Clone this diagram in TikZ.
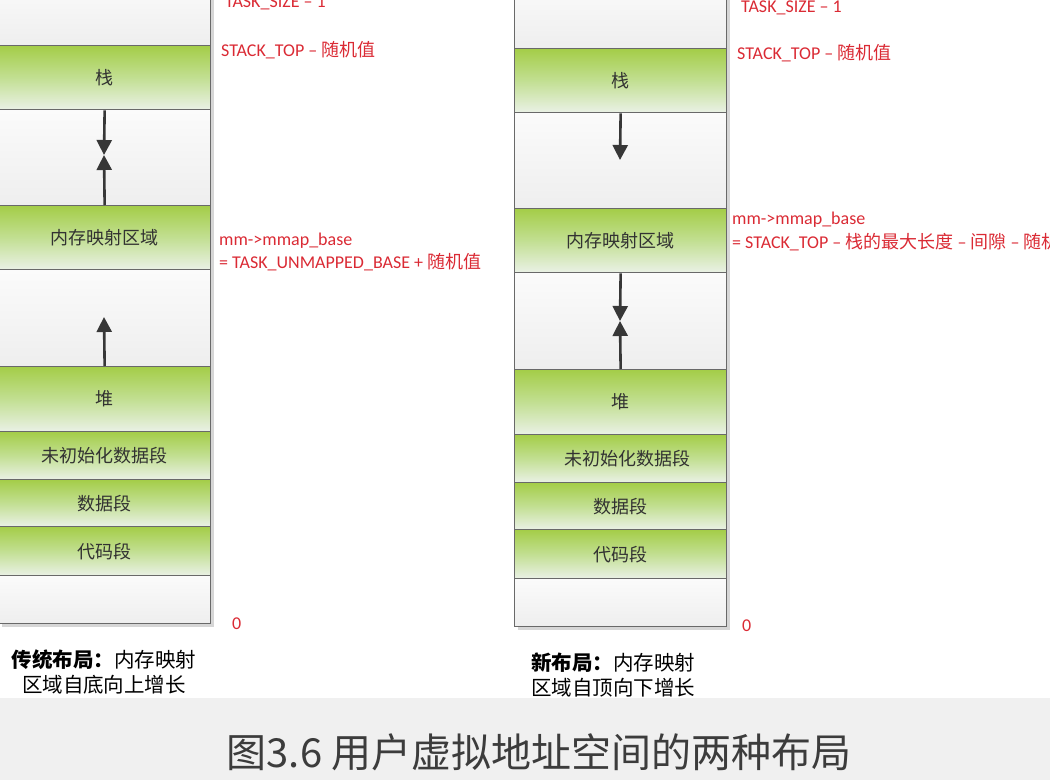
\documentclass[tikz,border=0pt]{standalone}
\usepackage{fontspec}
\setmainfont{Carlito}
\newfontfamily\cjk{Noto Sans CJK SC}
\usetikzlibrary{arrows.meta}

\definecolor{rowline}{RGB}{105,105,105}
\definecolor{rowshadow}{RGB}{214,214,214}
\definecolor{greentop}{RGB}{164,205,72}
\definecolor{greenmid}{RGB}{194,223,146}
\definecolor{greenbot}{RGB}{234,241,230}
\definecolor{greytop}{RGB}{251,251,251}
\definecolor{greybot}{RGB}{238,238,238}
\definecolor{addrred}{RGB}{218,42,52}
\definecolor{boxtext}{RGB}{50,50,50}
\definecolor{arrowgrey}{RGB}{55,55,55}
\definecolor{bandgrey}{RGB}{240,240,240}
\definecolor{titletext}{RGB}{60,60,60}

\begin{document}
\begin{tikzpicture}[x=1pt,y=-1pt,
        row/.style={draw=rowline, line width=1.3pt, anchor=north west, minimum width=212pt, inner sep=0pt, text=boxtext, font=\cjk\fontsize{18}{18}\selectfont},
        greenrow/.style={row, top color=greentop, bottom color=greenbot, middle color=greenmid},
        greyrow/.style={row, top color=greytop, bottom color=greybot},
        growarrow/.style={draw=arrowgrey, line width=2.6pt, -{Triangle[length=15pt,width=15pt]}},
        addr/.style={anchor=base west, inner sep=0pt, text=addrred, font=\fontsize{18}{18}\selectfont},
        note/.style={inner sep=0pt, text=black, font=\cjk\fontsize{20.5}{25.5}\selectfont}]
        \useasboundingbox (0,0) rectangle (1050,780);
        % traditional layout
        \fill[rowshadow] (2,-20) rectangle (214,627);
        \node[greyrow, minimum height=65pt] (Ltop) at (-2,-20) {};
        \node[greenrow, minimum height=64pt] (Lstack) at (-2,45) {栈};
        \node[greyrow, minimum height=96pt] (Lgap) at (-2,109) {};
        \node[greenrow, minimum height=64pt] (Lmmap) at (-2,205) {内存映射区域};
        \node[greyrow, minimum height=97pt] (Lfree) at (-2,269) {};
        \node[greenrow, minimum height=65pt] (Lheap) at (-2,366) {堆};
        \node[greenrow, minimum height=48pt] (Lbss) at (-2,431) {未初始化数据段};
        \node[greenrow, minimum height=47pt] (Ldata) at (-2,479) {数据段};
        \node[greenrow, minimum height=49pt] (Ltext) at (-2,526) {代码段};
        \node[greyrow, minimum height=48pt] (Lbottom) at (-2,575) {};
        \coordinate (Lmeet) at (104,155);
        \coordinate (Lheaptip) at (104,317);
        \draw[growarrow] (Lstack.south) -- (Lmeet);
        \draw[growarrow] (Lmmap.north) -- (Lmeet);
        \draw[growarrow] (Lheap.north) -- (Lheaptip);
        \node[addr] (Lsize) at (225,7) {TASK\_SIZE – 1};
        \node[addr] (Lstacktop) at (221,56) {STACK\_TOP – {\cjk 随机值}};
        \node[addr] (Lbase) at (219,245) {mm->mmap\_base};
        \node[addr] (Lbaseval) at (219,268) {= TASK\_UNMAPPED\_BASE + {\cjk 随机值}};
        \node[addr] (Lzero) at (232,629) {0};
        \node[note, align=center] (Lnote) at (104,672) {{\bfseries 传统布局：}内存映射\\区域自底向上增长};
        % new layout
        \fill[rowshadow] (518,-20) rectangle (730,630);
        \node[greyrow, minimum height=68pt] (Rtop) at (514,-20) {};
        \node[greenrow, minimum height=64pt] (Rstack) at (514,48) {栈};
        \node[greyrow, minimum height=96pt] (Rfree) at (514,112) {};
        \node[greenrow, minimum height=64pt] (Rmmap) at (514,208) {内存映射区域};
        \node[greyrow, minimum height=97pt] (Rgap) at (514,272) {};
        \node[greenrow, minimum height=65pt] (Rheap) at (514,369) {堆};
        \node[greenrow, minimum height=48pt] (Rbss) at (514,434) {\hspace*{14pt}未初始化数据段};
        \node[greenrow, minimum height=47pt] (Rdata) at (514,482) {数据段};
        \node[greenrow, minimum height=49pt] (Rtext) at (514,529) {代码段};
        \node[greyrow, minimum height=48pt] (Rbottom) at (514,578) {};
        \coordinate (Rstacktip) at (620,160);
        \coordinate (Rmeet) at (620,321);
        \draw[growarrow] (Rstack.south) -- (Rstacktip);
        \draw[growarrow] (Rmmap.south) -- (Rmeet);
        \draw[growarrow] (Rheap.north) -- (Rmeet);
        \node[addr] (Rsize) at (741,12) {TASK\_SIZE – 1};
        \node[addr] (Rstacktop) at (737,59) {STACK\_TOP – {\cjk 随机值}};
        \node[addr] (Rbase) at (732,224) {mm->mmap\_base};
        \node[addr] (Rbaseval) at (732,248) {= STACK\_TOP –\ {\cjk 栈的最大长度} – {\cjk 间隙} – {\cjk 随机值}};
        \node[addr] (Rzero) at (742,631) {0};
        \node[note, align=left, anchor=west] (Rnote) at (531,675) {{\bfseries 新布局：}内存映射\\区域自顶向下增长};
        % caption
        \fill[bandgrey] (0,698) rectangle (1050,780);
        \node[text=titletext, font=\cjk\fontsize{40}{40}\selectfont] (title) at (539,752) {图3.6 用户虚拟地址空间的两种布局};
    \end{tikzpicture}
\end{document}
